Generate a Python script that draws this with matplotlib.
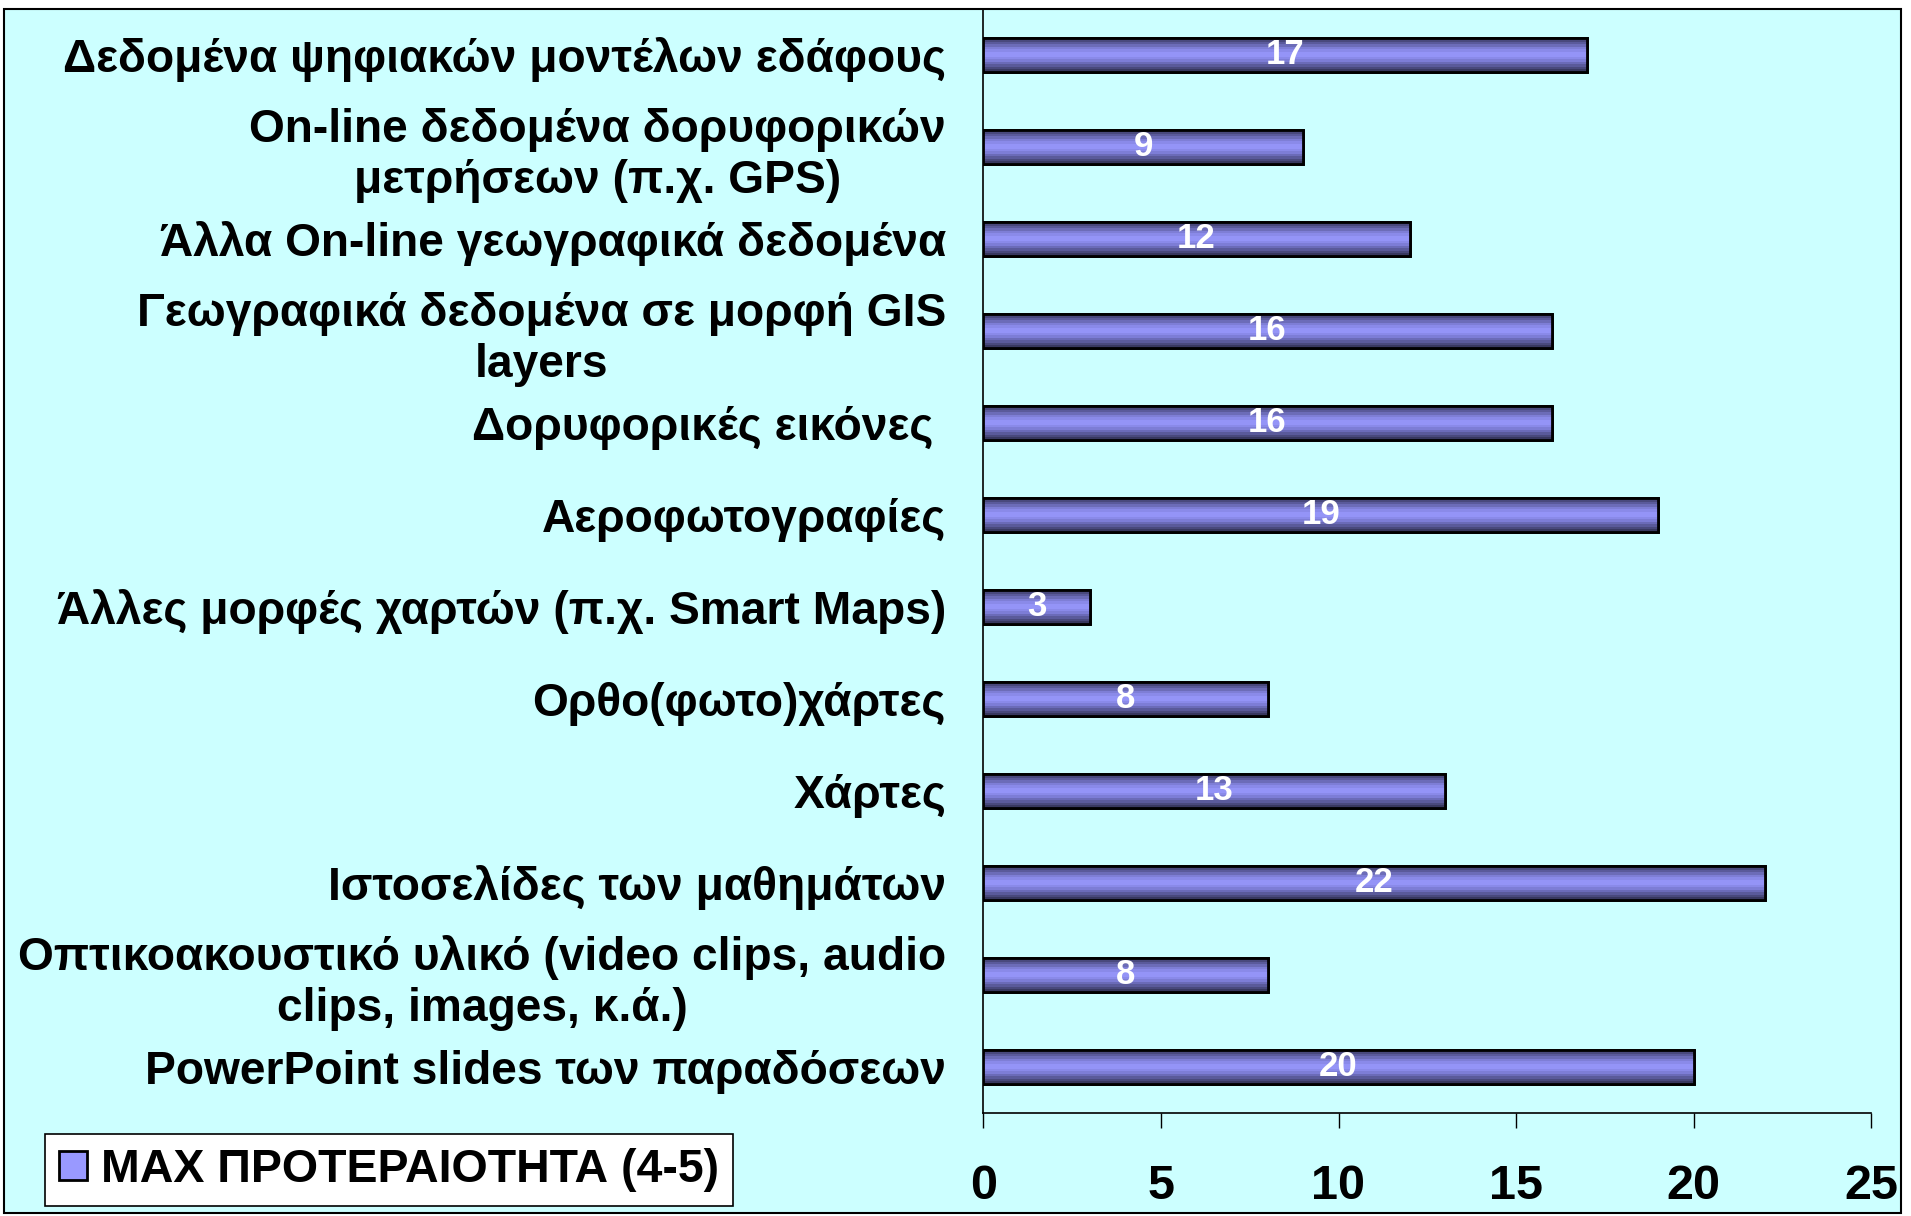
import numpy as np
import matplotlib
matplotlib.use('Agg')
import matplotlib.pyplot as plt
from matplotlib.colors import LinearSegmentedColormap
from matplotlib.patches import Rectangle

plt.rcParams['font.family'] = ['Liberation Sans', 'DejaVu Sans']
plt.rcParams['font.weight'] = 'bold'

# categories, top to bottom as in the chart
categories = [
    'Δεδομένα ψηφιακών μοντέλων εδάφους',
    'On-line δεδομένα δορυφορικών\nμετρήσεων (π.χ. GPS)',
    'Άλλα On-line γεωγραφικά δεδομένα',
    'Γεωγραφικά δεδομένα σε μορφή GIS\nlayers',
    'Δορυφορικές εικόνες ',
    'Αεροφωτογραφίες',
    'Άλλες μορφές χαρτών (π.χ. Smart Maps)',
    'Ορθο(φωτο)χάρτες',
    'Χάρτες',
    'Ιστοσελίδες των μαθημάτων',
    'Οπτικοακουστικό υλικό (video clips, audio\nclips, images, κ.ά.)',
    'PowerPoint slides των παραδόσεων',
]
values = [17, 9, 12, 16, 16, 19, 3, 8, 13, 22, 8, 20]
series_name = 'MAX ΠΡΟΤΕΡΑΙΟΤΗΤΑ (4-5)'
xticks = [0, 5, 10, 15, 20, 25]

W, H = 1911, 1216
fig = plt.figure(figsize=(W / 100, H / 100), dpi=100)
fig.patch.set_facecolor('white')

# cyan frame around the whole chart
frame = Rectangle((4 / W, 3 / H), 1897 / W, 1204 / H, transform=fig.transFigure,
                  facecolor='#CCFFFF', edgecolor='black', linewidth=1.5, zorder=-10)
fig.patches.append(frame)

ax = fig.add_axes([983.5 / W, 103 / H, (1871 - 983.5) / W, (1113 - 9) / H])
ax.set_facecolor('none')

y = np.arange(len(categories))
bars = ax.barh(y, values, height=0.38, color='#9999FF', edgecolor='black',
               linewidth=2, zorder=2)

# banded gradient like the original fill
grad = LinearSegmentedColormap.from_list(
    'band', ['#38385f', '#5d5da0', '#8484e0', '#9999FF', '#8484e0', '#5d5da0', '#38385f'], N=14)
g = np.linspace(0, 1, 14).reshape(-1, 1)
for b in bars:
    x0, y0 = b.get_x(), b.get_y()
    im = ax.imshow(g, cmap=grad, aspect='auto', interpolation='nearest',
                   extent=[x0, x0 + b.get_width(), y0 + b.get_height(), y0], zorder=2.5)
    im.set_clip_path(b)
    ax.add_patch(Rectangle((x0, y0), b.get_width(), b.get_height(), fill=False,
                           edgecolor='black', linewidth=2, zorder=3))

for yi, v in zip(y, values):
    ax.text(v / 2, yi, str(v), ha='center', va='center', color='white',
            fontsize=25, fontweight='bold', zorder=4)

ax.set_xlim(0, 25)
ax.set_ylim(len(categories) - 0.5, -0.5)
ax.set_xticks(xticks)
ax.set_xticklabels([str(t) for t in xticks], fontsize=35, fontweight='bold')
ax.set_yticks(y)
ax.set_yticklabels(categories, fontsize=33.2, fontweight='bold', multialignment='center')
ax.tick_params(axis='y', length=0, pad=27)
ax.tick_params(axis='x', direction='out', length=11, width=1, pad=26)

for s in ['top', 'right']:
    ax.spines[s].set_visible(False)
ax.spines['left'].set_linewidth(1.2)
ax.spines['bottom'].set_linewidth(1.2)

leg = fig.legend([bars[0]], [series_name], loc='lower left',
                 bbox_to_anchor=(45 / W, 10 / H), frameon=True, borderaxespad=0,
                 fancybox=False, edgecolor='black', framealpha=1,
                 handlelength=0.6, handleheight=0.6, handletextpad=0.3,
                 borderpad=0.3, prop={'weight': 'bold', 'size': 33.5})
leg.get_frame().set_linewidth(1.2)

fig.savefig('out.png', dpi=100, facecolor='white')
